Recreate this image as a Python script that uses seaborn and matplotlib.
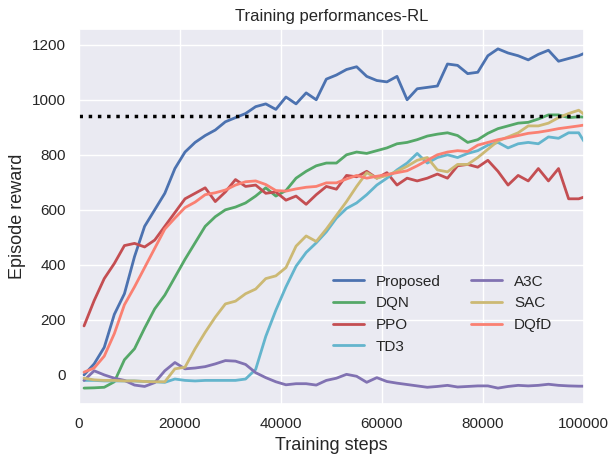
import numpy as np
import pandas as pd
import seaborn as sns
import matplotlib.pyplot as plt

# training steps at which each curve was read
steps = [1000, 3000, 5000, 7000, 9000, 11000, 13000, 15000, 17000, 19000,
         21000, 23000, 25000, 27000, 29000, 31000, 33000, 35000, 37000, 39000,
         41000, 43000, 45000, 47000, 49000, 51000, 53000, 55000, 57000, 59000,
         61000, 63000, 65000, 67000, 69000, 71000, 73000, 75000, 77000, 79000,
         81000, 83000, 85000, 87000, 89000, 91000, 93000, 95000, 97000, 99000,
         100000]

proposed = [0, 40, 100, 220, 295, 430, 540, 600, 660, 750,
            810, 845, 870, 890, 920, 935, 950, 975, 985, 965,
            1010, 985, 1025, 1000, 1075, 1090, 1110, 1120, 1085, 1070,
            1065, 1085, 1000, 1040, 1045, 1050, 1130, 1125, 1095, 1100,
            1160, 1185, 1170, 1160, 1145, 1165, 1180, 1140, 1150, 1160,
            1168]

dqn = [-48, -47, -45, -25, 55, 95, 170, 240, 290, 355,
       420, 480, 540, 575, 600, 610, 625, 650, 680, 650,
       670, 715, 740, 760, 770, 770, 800, 810, 805, 815,
       825, 840, 845, 855, 868, 875, 880, 870, 845, 855,
       878, 895, 905, 915, 918, 930, 945, 945, 935, 938,
       937]

ppo = [178, 270, 350, 405, 470, 478, 465, 490, 540, 590,
       640, 660, 680, 630, 665, 710, 685, 690, 660, 665,
       635, 650, 620, 655, 685, 675, 725, 720, 740, 715,
       735, 690, 715, 705, 715, 730, 715, 760, 765, 755,
       780, 740, 690, 725, 705, 750, 705, 750, 640, 640,
       646]

td3 = [-20, -20, -22, -22, -22, -22, -24, -25, -27, -15,
       -20, -22, -20, -20, -20, -20, -15, 20, 140, 235,
       320, 395, 445, 480, 520, 570, 605, 625, 655, 690,
       715, 745, 770, 805, 770, 790, 800, 790, 805, 815,
       835, 845, 825, 840, 845, 840, 865, 860, 880, 880,
       850]

a3c = [-20, 15, 0, -12, -20, -37, -42, -28, 15, 45,
       22, 25, 30, 40, 52, 50, 38, 8, -10, -25,
       -36, -32, -32, -37, -20, -12, 2, -5, -27, -10,
       -24, -30, -35, -40, -45, -42, -38, -44, -42, -40,
       -40, -48, -42, -38, -40, -38, -34, -38, -40, -41,
       -41]

sac = [-12, -18, -20, -20, -22, -22, -24, -25, -25, 22,
       28, 95, 155, 210, 258, 268, 295, 312, 350, 360,
       390, 468, 505, 485, 530, 580, 630, 685, 735, 715,
       725, 740, 758, 780, 790, 745, 738, 765, 765, 790,
       820, 850, 865, 880, 905, 905, 915, 935, 950, 962,
       948]

dqfd = [10, 25, 68, 150, 255, 320, 390, 460, 530, 570,
        608, 628, 655, 662, 672, 690, 702, 705, 692, 670,
        668, 676, 682, 685, 698, 698, 712, 725, 715, 722,
        728, 735, 742, 760, 780, 800, 810, 815, 812, 835,
        845, 855, 862, 870, 878, 882, 888, 895, 900, 905,
        908]

methods = ["Proposed", "DQN", "PPO", "TD3", "A3C", "SAC", "DQfD"]
colors = ["#4C72B0", "#55A868", "#C44E52", "#64B5CD", "#8172B2", "#CCB974", "#FA8072"]
target_reward = 940

curves = [proposed, dqn, ppo, td3, a3c, sac, dqfd]
df = pd.concat(
    [pd.DataFrame({"step": steps, "reward": c, "method": m}) for m, c in zip(methods, curves)],
    ignore_index=True,
)

sns.set_theme(style="darkgrid")
plt.rcParams["font.family"] = ["Liberation Sans", "DejaVu Sans"]

fig, ax = plt.subplots(figsize=(6.1, 4.54), dpi=100)
fig.subplots_adjust(left=0.1295, right=0.957, top=0.936, bottom=0.110)

sns.lineplot(data=df, x="step", y="reward", hue="method", hue_order=methods,
             palette=dict(zip(methods, colors)), linewidth=2, ax=ax)
ax.axhline(target_reward, color="black", linestyle=":", linewidth=2.5)

handles, labels = ax.get_legend_handles_labels()
ax.legend(handles, labels, ncol=2, loc="lower right", bbox_to_anchor=(0.965, 0.098),
          frameon=False, fontsize=11)

ax.set_xlim(0, 100000)
ax.set_ylim(-106, 1257)
ax.set_xticks([0, 20000, 40000, 60000, 80000, 100000])
ax.set_yticks([0, 200, 400, 600, 800, 1000, 1200])
ax.tick_params(labelsize=11)
ax.set_xlabel("Training steps", fontsize=13)
ax.set_ylabel("Episode reward", fontsize=13)
ax.set_title("Training performances-RL", fontsize=12)

fig.savefig("out.png", dpi=100)
